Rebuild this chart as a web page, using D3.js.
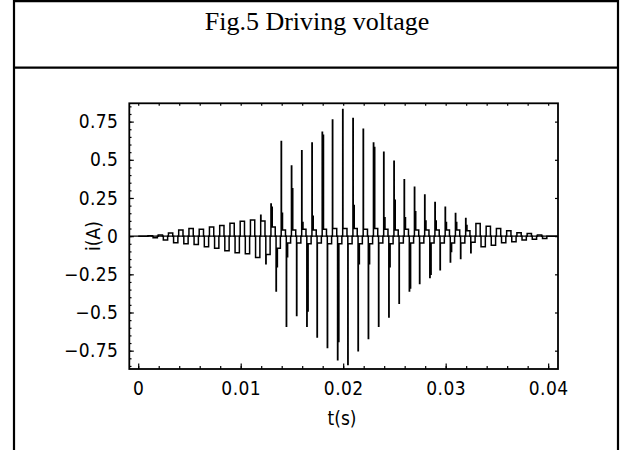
<!DOCTYPE html>
<html>
<head>
<meta charset="utf-8">
<script src="https://cdn.jsdelivr.net/npm/d3@7"></script>
<style>
  body { margin: 0; background: #fff; }
  svg { display: block; }
</style>
</head>
<body>
<script>
// one entry per drive cycle (ms); positive pulse near the start, negative half a cycle later
const cycleMs = [1, 2, 3, 4, 5, 6, 7, 8, 9, 10, 11, 12, 13, 14, 15, 16, 17, 18, 19, 20,
  21, 22, 23, 24, 25, 26, 27, 28, 29, 30, 31, 32, 33, 34, 35, 36, 37, 38, 39, 40];
const posPeak = [0.003, 0.007, 0.02, 0.04, 0.05, 0.045, 0.06, 0.07, 0.085, 0.098,
  0.105, 0.137, 0.21, 0.62, 0.46, 0.56, 0.61, 0.68, 0.76, 0.83,
  0.77, 0.70, 0.61, 0.55, 0.49, 0.37, 0.32, 0.27, 0.22, 0.19,
  0.148, 0.116, 0.083, 0.065, 0.05, 0.035, 0.022, 0.018, 0.007, 0];
const posSub = [0, 0, 0, 0, 0, 0, 0, 0, 0, 0,
  0, 0, 0.19, 0.15, 0.31, 0.09, 0.13, 0.66, 0, 0,
  0.2, 0, 0.58, 0.12, 0.235, 0.12, 0.16, 0.1, 0.1, 0.09,
  0.09, 0.07, 0, 0, 0, 0, 0, 0, 0, 0];
const posLevel = [0.003, 0.007, 0.02, 0.04, 0.05, 0.045, 0.06, 0.07, 0.085, 0.098,
  0.105, 0.1, 0.06, 0.04, 0.04, 0.045, 0.04, 0.045, 0.05, 0.05,
  0.05, 0.045, 0.05, 0.045, 0.04, 0.045, 0.04, 0.04, 0.04, 0.04,
  0.04, 0.035, 0.083, 0.065, 0.05, 0.035, 0.022, 0.018, 0.007, 0];
const negPeak = [0.01, 0.026, 0.044, 0.05, 0.055, 0.07, 0.08, 0.095, 0.108, 0.115,
  0.14, 0.18, 0.36, 0.59, 0.52, 0.59, 0.66, 0.73, 0.81, 0.84,
  0.75, 0.67, 0.59, 0.53, 0.44, 0.36, 0.31, 0.27, 0.22, 0.17,
  0.146, 0.109, 0.07, 0.059, 0.044, 0.037, 0.026, 0.02, 0.015, 0];
const negSub = [0, 0, 0, 0, 0, 0, 0, 0, 0, 0,
  0, 0, 0.2, 0.135, 0, 0.49, 0, 0, 0.69, 0,
  0.18, 0.18, 0, 0.2, 0, 0.34, 0, 0.25, 0, 0.1,
  0, 0, 0, 0, 0, 0, 0, 0, 0, 0];
const negLevel = [0.01, 0.026, 0.044, 0.05, 0.055, 0.07, 0.08, 0.095, 0.108, 0.115,
  0.14, 0.12, 0.08, 0.045, 0.045, 0.05, 0.045, 0.05, 0.05, 0.05,
  0.05, 0.05, 0.045, 0.05, 0.045, 0.045, 0.045, 0.045, 0.045, 0.045,
  0.045, 0.04, 0.07, 0.059, 0.044, 0.037, 0.026, 0.02, 0.015, 0];

const xTicks = [0, 0.01, 0.02, 0.03, 0.04];
const yTicks = [-0.75, -0.5, -0.25, 0, 0.25, 0.5, 0.75];

const dimensions = {
  width: 621,
  height: 450,
  frame: { left: 129.3, right: 558, top: 103.3, bottom: 369 },
};

const xScale = d3
  .scaleLinear()
  .domain([-0.00087, 0.04096])
  .range([dimensions.frame.left, dimensions.frame.right]);
const yScale = d3
  .scaleLinear()
  .domain([-0.87, 0.87])
  .range([dimensions.frame.bottom, dimensions.frame.top]);

// trace of the current, built cycle by cycle from the values above
const points = [[0, 0]];
cycleMs.forEach((c, i) => {
  const tp = c - 0.05;
  const tn = c + 0.45;
  const next = c + 0.95;
  points.push([tp, 0], [tp, posPeak[i]], [tp + 0.03, posPeak[i]]);
  let t = tp + 0.03;
  if (posSub[i]) {
    points.push([t, posSub[i]], [t + 0.1, posSub[i]]);
    t += 0.1;
  }
  points.push([t, posLevel[i]], [tn - 0.08, posLevel[i]], [tn - 0.08, 0], [tn, 0]);
  points.push([tn, -negPeak[i]], [tn + 0.03, -negPeak[i]]);
  t = tn + 0.03;
  if (negSub[i]) {
    points.push([t, -negSub[i]], [t + 0.1, -negSub[i]]);
    t += 0.1;
  }
  points.push([t, -negLevel[i]], [next - 0.08, -negLevel[i]], [next - 0.08, 0]);
});
points.push([40, 0]);

const svg = d3
  .select('body')
  .append('svg')
  .attr('width', dimensions.width)
  .attr('height', dimensions.height)
  .attr('viewBox', [0, 0, dimensions.width, dimensions.height]);

// table borders around the figure
const table = svg.append('g').attr('stroke', '#000').attr('stroke-width', 2.2);
table.append('line').attr('x1', 14).attr('x2', 14).attr('y1', 0).attr('y2', 450);
table.append('line').attr('x1', 618).attr('x2', 618).attr('y1', 0).attr('y2', 450);
table.append('line').attr('x1', 13).attr('x2', 619).attr('y1', 1.2).attr('y2', 1.2);
table.append('line').attr('x1', 13).attr('x2', 619).attr('y1', 67.7).attr('y2', 67.7);

svg
  .append('text')
  .attr('x', 317)
  .attr('y', 30)
  .attr('text-anchor', 'middle')
  .attr('font-family', '"Liberation Serif", "Times New Roman", serif')
  .attr('font-size', 26)
  .text('Fig.5 Driving voltage');

const plot = svg.append('g');

// zero axis
plot
  .append('line')
  .attr('x1', dimensions.frame.left)
  .attr('x2', dimensions.frame.right)
  .attr('y1', yScale(0))
  .attr('y2', yScale(0))
  .attr('stroke', '#000')
  .attr('stroke-width', 1.4);

const line = d3
  .line()
  .x(d => xScale(d[0] / 1000))
  .y(d => yScale(d[1]));

plot
  .append('path')
  .attr('d', line(points))
  .attr('fill', 'none')
  .attr('stroke', '#000')
  .attr('stroke-width', 1.5)
  .attr('stroke-linejoin', 'miter');

const fontSans = '"Liberation Sans Narrow", "DejaVu Sans Condensed", "Liberation Sans", sans-serif';
const fmt = d => (d < 0 ? '\u2212' + String(-d) : String(d));

function tickGroup(axis, transform) {
  const g = plot.append('g').attr('transform', transform).call(axis);
  g.select('.domain').remove();
  g.selectAll('line').attr('stroke', '#000').attr('stroke-width', 1.2);
  g.selectAll('text')
    .attr('font-family', fontSans)
    .attr('font-size', 19)
    .attr('letter-spacing', 0.4)
    .attr('fill', '#000');
  return g;
}

const xMinor = xScale.ticks(20);
const yMinor = yScale.ticks(35);
const fb = dimensions.frame;

// bottom
tickGroup(d3.axisBottom(xScale).tickValues(xMinor).tickSize(-3).tickFormat(''),
  `translate(0 ${fb.bottom})`);
tickGroup(d3.axisBottom(xScale).tickValues(xTicks).tickSize(-5.5).tickPadding(13).tickFormat(fmt),
  `translate(0 ${fb.bottom})`);
// top
tickGroup(d3.axisTop(xScale).tickValues(xMinor).tickSize(-2.5).tickFormat(''),
  `translate(0 ${fb.top})`);
// left
tickGroup(d3.axisLeft(yScale).tickValues(yMinor).tickSize(-2.2).tickFormat(''),
  `translate(${fb.left} 0)`);
tickGroup(d3.axisLeft(yScale).tickValues(yTicks).tickSize(-4.5).tickPadding(11).tickFormat(fmt),
  `translate(${fb.left} 0)`);
// right
tickGroup(d3.axisRight(yScale).tickValues(yTicks).tickSize(-3).tickFormat(''),
  `translate(${fb.right} 0)`);

plot
  .append('rect')
  .attr('x', fb.left)
  .attr('y', fb.top)
  .attr('width', fb.right - fb.left)
  .attr('height', fb.bottom - fb.top)
  .attr('fill', 'none')
  .attr('stroke', '#000')
  .attr('stroke-width', 1.8);

const labels = plot
  .append('g')
  .attr('font-family', fontSans)
  .attr('font-size', 19)
  .attr('fill', '#000')
  .attr('text-anchor', 'middle');

labels.append('text').attr('x', 342).attr('y', 425).text('t(s)');
labels
  .append('text')
  .attr('transform', 'translate(100 236) rotate(-90)')
  .text('i(A)');
</script>
</body>
</html>
